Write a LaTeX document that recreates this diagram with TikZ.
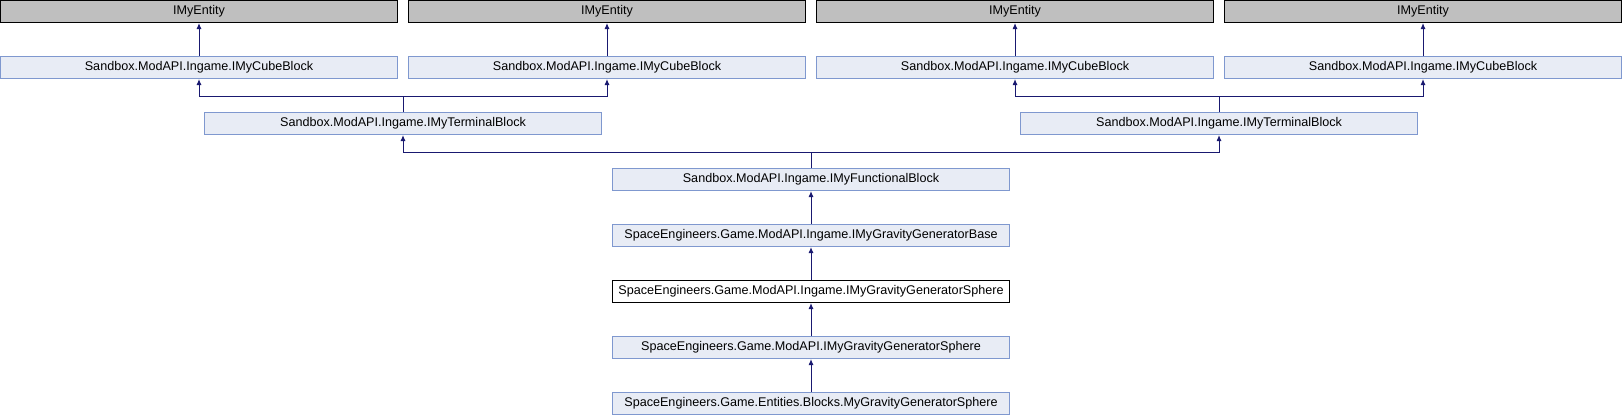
\documentclass[tikz,border=0pt]{standalone}
\usepackage{fontspec}
\setmainfont{Liberation Sans}
\usetikzlibrary{arrows.meta}
\definecolor{boxfill}{HTML}{E8ECF5}
\definecolor{boxline}{HTML}{7F98CF}
\definecolor{edgecol}{HTML}{191970}
\definecolor{extfill}{HTML}{BFBFBF}
\tikzset{
  cls/.style={draw=boxline, fill=boxfill, line width=1pt, minimum width=397pt, minimum height=22pt, inner sep=0pt, font=\fontsize{12.6}{14}\selectfont},
  ext/.style={cls, draw=black, fill=extfill},
  main/.style={cls, draw=black, fill=white},
  edge/.style={draw=edgecol, line width=1pt, -{Latex[length=6pt,width=5pt]}},
}
\begin{document}
\begin{tikzpicture}[x=1pt,y=-1pt]
\useasboundingbox (0,0) rectangle (1622,416);
% row 1
\node[ext] (e1) at (199,11.5) {IMyEntity};
\node[ext] (e2) at (607,11.5) {IMyEntity};
\node[ext] (e3) at (1015,11.5) {IMyEntity};
\node[ext] (e4) at (1423,11.5) {IMyEntity};
% row 2
\node[cls] (c1) at (199,67.5) {Sandbox.ModAPI.Ingame.IMyCubeBlock};
\node[cls] (c2) at (607,67.5) {Sandbox.ModAPI.Ingame.IMyCubeBlock};
\node[cls] (c3) at (1015,67.5) {Sandbox.ModAPI.Ingame.IMyCubeBlock};
\node[cls] (c4) at (1423,67.5) {Sandbox.ModAPI.Ingame.IMyCubeBlock};
% row 3
\node[cls] (t1) at (403,123.5) {Sandbox.ModAPI.Ingame.IMyTerminalBlock};
\node[cls] (t2) at (1219,123.5) {Sandbox.ModAPI.Ingame.IMyTerminalBlock};
% rows 4-8
\node[cls] (f) at (811,179.5) {Sandbox.ModAPI.Ingame.IMyFunctionalBlock};
\node[cls] (gb) at (811,235.5) {SpaceEngineers.Game.ModAPI.Ingame.IMyGravityGeneratorBase};
\node[main] (gs) at (811,291.5) {SpaceEngineers.Game.ModAPI.Ingame.IMyGravityGeneratorSphere};
\node[cls] (ms) at (811,347.5) {SpaceEngineers.Game.ModAPI.IMyGravityGeneratorSphere};
\node[cls] (es) at (811,403.5) {SpaceEngineers.Game.Entities.Blocks.MyGravityGeneratorSphere};
% edges
\draw[edge] (c1.north) -- (e1.south);
\draw[edge] (c2.north) -- (e2.south);
\draw[edge] (c3.north) -- (e3.south);
\draw[edge] (c4.north) -- (e4.south);
\coordinate (j1) at (403,96.5);
\coordinate (j2) at (1219,96.5);
\coordinate (j3) at (811,152);
\draw[edge] (t1.north) -- (j1) -| (c1.south);
\draw[edge] (t1.north) -- (j1) -| (c2.south);
\draw[edge] (t2.north) -- (j2) -| (c3.south);
\draw[edge] (t2.north) -- (j2) -| (c4.south);
\draw[edge] (f.north) -- (j3) -| (t1.south);
\draw[edge] (f.north) -- (j3) -| (t2.south);
\draw[edge] (gb.north) -- (f.south);
\draw[edge] (gs.north) -- (gb.south);
\draw[edge] (ms.north) -- (gs.south);
\draw[edge] (es.north) -- (ms.south);
\end{tikzpicture}
\end{document}
